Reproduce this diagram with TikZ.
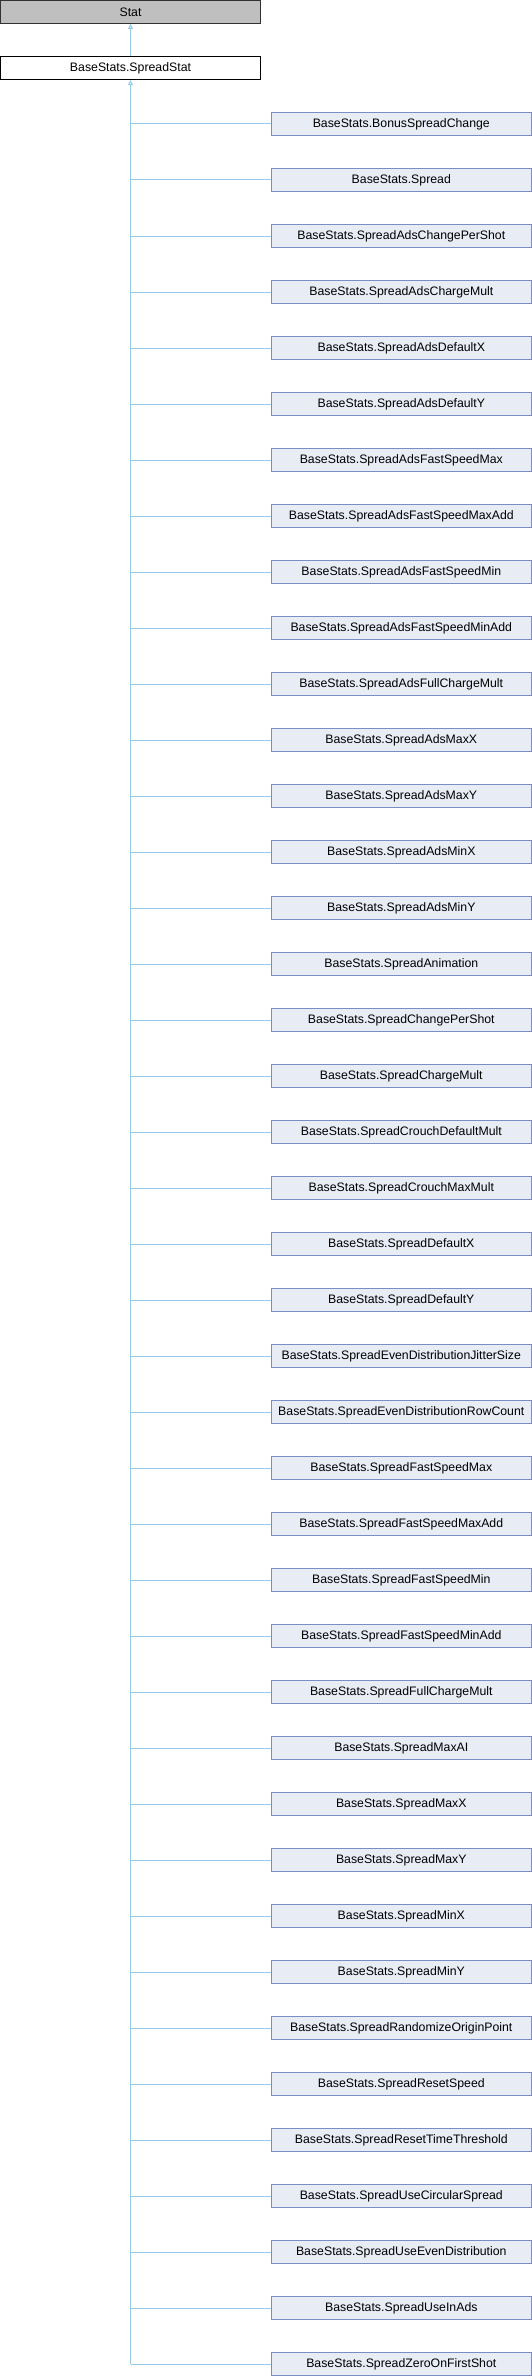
\documentclass[tikz,border=0pt]{standalone}
\usepackage{fontspec}
\setmainfont{Liberation Sans}
\usetikzlibrary{arrows.meta}
\definecolor{childfill}{RGB}{232,236,245}
\definecolor{childdraw}{RGB}{122,141,197}
\definecolor{edgecol}{RGB}{150,202,234}
\definecolor{statfill}{RGB}{191,191,191}
\definecolor{statdraw}{RGB}{50,50,50}
\tikzset{
  basebox/.style={rectangle, minimum width=260pt, minimum height=23.3pt, inner sep=0pt,
    line width=1pt, font=\fontsize{12.3}{14}\selectfont},
  statbox/.style={basebox, fill=statfill, draw=statdraw},
  parentbox/.style={basebox, fill=white, draw=black},
  childbox/.style={basebox, fill=childfill, draw=childdraw},
  edge/.style={draw=edgecol, line width=1pt},
  inherit/.style={edge, -{Triangle[open, length=5pt, width=5pt]}}
}
\begin{document}
\begin{tikzpicture}[x=1pt,y=1pt]
\useasboundingbox (0,0) rectangle (532,-2376);
\node[statbox] (stat) at (130.5,-11.8) {Stat};
\node[parentbox] (ss) at (130.5,-68) {BaseStats.SpreadStat};
\draw[inherit] (ss.north) -- (stat.south);
\foreach \name [count=\i] in {BonusSpreadChange,Spread,SpreadAdsChangePerShot,SpreadAdsChargeMult,SpreadAdsDefaultX,SpreadAdsDefaultY,SpreadAdsFastSpeedMax,SpreadAdsFastSpeedMaxAdd,SpreadAdsFastSpeedMin,SpreadAdsFastSpeedMinAdd,SpreadAdsFullChargeMult,SpreadAdsMaxX,SpreadAdsMaxY,SpreadAdsMinX,SpreadAdsMinY,SpreadAnimation,SpreadChangePerShot,SpreadChargeMult,SpreadCrouchDefaultMult,SpreadCrouchMaxMult,SpreadDefaultX,SpreadDefaultY,SpreadEvenDistributionJitterSize,SpreadEvenDistributionRowCount,SpreadFastSpeedMax,SpreadFastSpeedMaxAdd,SpreadFastSpeedMin,SpreadFastSpeedMinAdd,SpreadFullChargeMult,SpreadMaxAI,SpreadMaxX,SpreadMaxY,SpreadMinX,SpreadMinY,SpreadRandomizeOriginPoint,SpreadResetSpeed,SpreadResetTimeThreshold,SpreadUseCircularSpread,SpreadUseEvenDistribution,SpreadUseInAds,SpreadZeroOnFirstShot}{
  \node[childbox] (c\i) at (401.3,{-124-56*(\i-1)}) {BaseStats.\name};
  \draw[edge] (c\i.west) -- (c\i.west -| ss.south);
}
\draw[inherit] (c41.west -| ss.south) -- (ss.south);
\end{tikzpicture}
\end{document}
